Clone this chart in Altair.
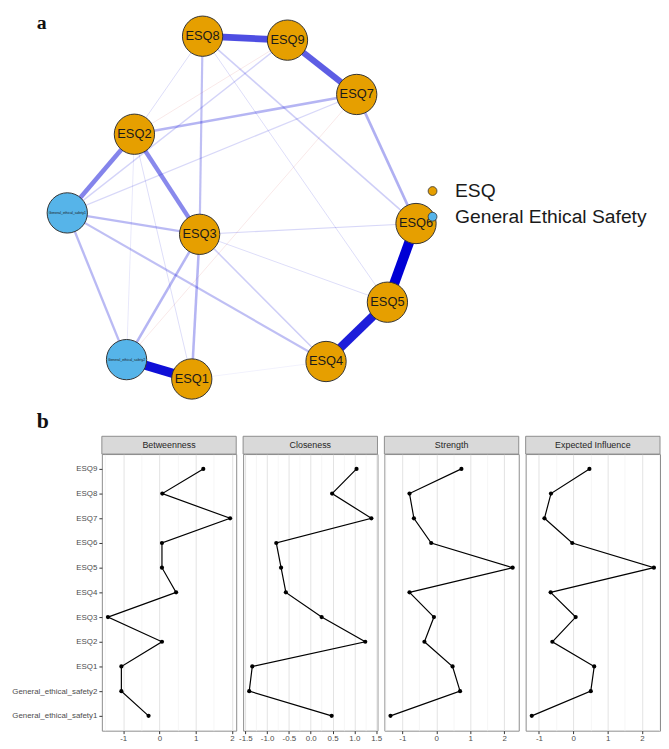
import altair as alt
import pandas as pd

# ---------------- panel a: network ----------------
node_names = ["ESQ1", "ESQ2", "ESQ3", "ESQ4", "ESQ5", "ESQ6", "ESQ7", "ESQ8", "ESQ9",
              "General_ethical_safety1", "General_ethical_safety2"]
node_groups = ["ESQ"] * 9 + ["General Ethical Safety"] * 2
node_x = [-0.286, -0.615, -0.241, 0.484, 0.836, 1.000, 0.660, -0.224, 0.263, -1.000, -0.660]
node_y = [-1.000, 0.428, -0.156, -0.898, -0.552, -0.093, 0.660, 1.000, 0.977, -0.031, -0.887]

edge_from = ["ESQ6", "ESQ5", "General_ethical_safety2", "ESQ8", "ESQ9", "ESQ2", "ESQ2",
             "ESQ7", "ESQ7", "ESQ8", "General_ethical_safety1", "General_ethical_safety1",
             "General_ethical_safety1", "ESQ3", "ESQ3", "ESQ3", "ESQ9", "ESQ8", "ESQ8",
             "ESQ7", "ESQ3", "ESQ3", "ESQ8", "ESQ2", "ESQ2", "ESQ1", "ESQ9", "ESQ7"]
edge_to = ["ESQ5", "ESQ4", "ESQ1", "ESQ9", "ESQ7", "General_ethical_safety1", "ESQ3",
           "ESQ2", "ESQ6", "ESQ3", "ESQ3", "General_ethical_safety2",
           "ESQ4", "General_ethical_safety2", "ESQ1", "ESQ4", "General_ethical_safety1", "ESQ6", "ESQ5",
           "General_ethical_safety1", "ESQ6", "ESQ5", "ESQ2", "ESQ1", "General_ethical_safety2", "ESQ4",
           "ESQ2", "General_ethical_safety2"]
edge_weight = [0.50, 0.44, 0.47, 0.34, 0.31, 0.23, 0.22,
               0.13, 0.14, 0.11, 0.12, 0.12,
               0.11, 0.13, 0.13, 0.08, 0.07, 0.08, 0.05,
               0.06, 0.06, 0.05, 0.05, 0.05, 0.04, 0.03, -0.04, -0.04]

group_names = ["ESQ", "General Ethical Safety"]
group_colors = ["#E69F00", "#56B4E9"]

# ---------------- panel b: centrality ----------------
cent_nodes = ["General_ethical_safety1", "General_ethical_safety2", "ESQ1", "ESQ2", "ESQ3",
              "ESQ4", "ESQ5", "ESQ6", "ESQ7", "ESQ8", "ESQ9"]
measures = ["Betweenness", "Closeness", "Strength", "Expected Influence"]
betweenness = [-0.30, -1.05, -1.05, 0.07, -1.42, 0.46, 0.07, 0.07, 1.95, 0.08, 1.21]
closeness = [0.48, -1.41, -1.34, 1.25, 0.25, -0.57, -0.68, -0.79, 1.39, 0.49, 1.05]
strength = [-1.35, 0.70, 0.48, -0.35, -0.07, -0.79, 2.25, -0.15, -0.66, -0.79, 0.74]
expected_influence = [-1.21, 0.51, 0.61, -0.61, 0.07, -0.66, 2.35, -0.03, -0.84, -0.65, 0.47]

betweenness_ticks = [-1.5, -1, -0.5, 0, 0.5, 1, 1.5, 2]
closeness_ticks = [-1.5, -1.25, -1.0, -0.75, -0.5, -0.25, 0.0, 0.25, 0.5, 0.75, 1.0, 1.25, 1.5]
strength_ticks = [-1.5, -1, -0.5, 0, 0.5, 1, 1.5, 2]
ei_ticks = [-1, -0.5, 0, 0.5, 1, 1.5, 2, 2.5]

FONT = "Liberation Sans"
YAXIS_W = 94          # space reserved for the y-axis labels of panel b
TOP_W, TOP_H = 559, 425

# ---------- build network ----------
nodes_df = pd.DataFrame({"name": node_names, "group": node_groups, "x": node_x, "y": node_y})
pos = {n: (x, y) for n, x, y in zip(node_names, node_x, node_y)}
edges_df = pd.DataFrame({"from": edge_from, "to": edge_to, "w": edge_weight})
edges_df["x"] = edges_df["from"].map(lambda n: pos[n][0])
edges_df["y"] = edges_df["from"].map(lambda n: pos[n][1])
edges_df["x2"] = edges_df["to"].map(lambda n: pos[n][0])
edges_df["y2"] = edges_df["to"].map(lambda n: pos[n][1])
edges_df["absw"] = edges_df["w"].abs()
edges_df["sign"] = edges_df["w"].map(lambda v: "positive" if v > 0 else "negative")
edges_df = edges_df.sort_values("absw").reset_index(drop=True)

xs = alt.Scale(domain=[-0.8017, 2.3654], nice=False, zero=False)
ys = alt.Scale(domain=[-1.317, 1.1326], nice=False, zero=False)

edges_layer = alt.Chart(edges_df).mark_rule().encode(
    x=alt.X("x:Q", scale=xs, axis=None),
    y=alt.Y("y:Q", scale=ys, axis=None),
    x2="x2:Q",
    y2="y2:Q",
    strokeWidth=alt.StrokeWidth("absw:Q", scale=alt.Scale(domain=[0, 0.5], range=[0, 10]), legend=None),
    opacity=alt.Opacity("absw:Q", scale=alt.Scale(domain=[0, 0.5], range=[0.04, 1]), legend=None),
    stroke=alt.Stroke("sign:N", scale=alt.Scale(domain=["positive", "negative"],
                                                range=["#0000D5", "#BF0000"]), legend=None),
)

nodes_layer = alt.Chart(nodes_df).mark_circle(size=1662, opacity=1, stroke="#333333", strokeWidth=1).encode(
    x=alt.X("x:Q", scale=xs, axis=None),
    y=alt.Y("y:Q", scale=ys, axis=None),
    color=alt.Color("group:N", scale=alt.Scale(domain=group_names, range=group_colors),
                    legend=alt.Legend(title=None, orient="none", legendX=419 - YAXIS_W, legendY=170,
                                      labelFontSize=19.5, labelFont=FONT, labelColor="#1a1a1a",
                                      symbolSize=80, symbolType="circle", symbolStrokeColor="#333333",
                                      symbolStrokeWidth=0.8, symbolOpacity=1, rowPadding=5,
                                      labelOffset=13, padding=0, labelLimit=300)),
)

esq_labels = alt.Chart(nodes_df).transform_filter(alt.datum.group == "ESQ").mark_text(
    fontSize=13, font=FONT, color="#1a1a1a").encode(
    x=alt.X("x:Q", scale=xs, axis=None),
    y=alt.Y("y:Q", scale=ys, axis=None),
    text="name:N",
)
ges_labels = alt.Chart(nodes_df).transform_filter(alt.datum.group != "ESQ").mark_text(
    fontSize=3.5, font=FONT, color="#1a1a1a").encode(
    x=alt.X("x:Q", scale=xs, axis=None),
    y=alt.Y("y:Q", scale=ys, axis=None),
    text="name:N",
)

letter_a = alt.Chart(pd.DataFrame({"letter": ["a"]})).mark_text(
    font="Liberation Serif", fontSize=20, fontWeight="bold", align="left", baseline="top",
    color="#111111").encode(x=alt.value(28 - YAXIS_W), y=alt.value(0), text="letter:N")
letter_b = alt.Chart(pd.DataFrame({"letter": ["b"]})).mark_text(
    font="Liberation Serif", fontSize=22, fontWeight="bold", align="left", baseline="alphabetic",
    color="#111111").encode(x=alt.value(28 - YAXIS_W), y=alt.value(420), text="letter:N")

top = alt.layer(edges_layer, nodes_layer, esq_labels, ges_labels, letter_a, letter_b).properties(
    width=TOP_W, height=TOP_H, view=alt.ViewBackground(stroke="transparent"))

# ---------- build centrality panels ----------
PW, PH, SH = 136, 280, 18
y_domain = list(reversed(cent_nodes))


def panel(measure, values, ticks, step, fmt, show_y):
    df = pd.DataFrame({"node": cent_nodes, "value": values, "idx": list(range(len(cent_nodes)))})
    lo, hi = min(values), max(values)
    pad = 0.05 * (hi - lo)
    major = f"abs(datum.value / {step} - round(datum.value / {step})) < 0.000001"
    xaxis = alt.Axis(
        values=ticks,
        labelExpr=f"{major} ? replace(format(datum.value, '{fmt}'), '\u2212', '-') : ''",
        labelFontSize=8, labelFont=FONT, labelColor="#4D4D4D", labelPadding=1,
        labelFlush=False, labelOverlap=False,
        tickSize=3, tickColor="#333333",
        tickOpacity={"condition": {"test": major, "value": 1}, "value": 0},
        domain=False,
        gridColor={"condition": {"test": major, "value": "#E3E3E3"}, "value": "#EFEFEF"},
        gridWidth={"condition": {"test": major, "value": 1}, "value": 0.6},
    )
    if show_y:
        yaxis = alt.Axis(labelFontSize=8, labelFont=FONT, labelColor="#4D4D4D", tickSize=3,
                         tickColor="#333333", domain=False, gridColor="#E3E3E3", labelPadding=2,
                         minExtent=YAXIS_W, maxExtent=YAXIS_W)
    else:
        yaxis = alt.Axis(labels=False, ticks=False, domain=False, gridColor="#E3E3E3",
                         minExtent=0, maxExtent=0)
    xenc = alt.X("value:Q", scale=alt.Scale(domain=[lo - pad, hi + pad], nice=False, zero=False),
                 axis=xaxis, title=None)
    yenc = alt.Y("node:N", scale=alt.Scale(type="point", domain=y_domain, padding=0.6),
                 axis=yaxis, title=None)
    base = alt.Chart(df).encode(x=xenc, y=yenc)
    line = base.mark_line(color="#000000", strokeWidth=1.2).encode(order=alt.Order("idx:Q"))
    pts = base.mark_circle(size=18, color="#000000", opacity=1)
    sdf = pd.DataFrame({"measure": [measure]})
    strip_rect = alt.Chart(sdf).mark_rect(fill="#D9D9D9", stroke="#8C8C8C", strokeWidth=1).encode(
        x=alt.value(0), x2=alt.value(PW), y=alt.value(-SH), y2=alt.value(0))
    strip_text = alt.Chart(sdf).mark_text(fontSize=9, font=FONT, color="#262626").encode(
        x=alt.value(PW / 2), y=alt.value(-SH / 2), text="measure:N")
    return alt.layer(line, pts, strip_rect, strip_text).properties(width=PW, height=PH)


panels = [
    panel(measures[0], betweenness, betweenness_ticks, 1, ".0f", True),
    panel(measures[1], closeness, closeness_ticks, 0.5, ".1f", False),
    panel(measures[2], strength, strength_ticks, 1, ".0f", False),
    panel(measures[3], expected_influence, ei_ticks, 1, ".0f", False),
]
bottom = alt.hconcat(*panels, spacing=7, bounds="flush")

chart = alt.vconcat(top, bottom, spacing=1).properties(padding=0, background="white").configure(
    font=FONT, view=alt.ViewConfig(stroke="#8C8C8C", strokeWidth=1))

chart.save("out.html", embed_options={"renderer": "svg", "actions": False})
